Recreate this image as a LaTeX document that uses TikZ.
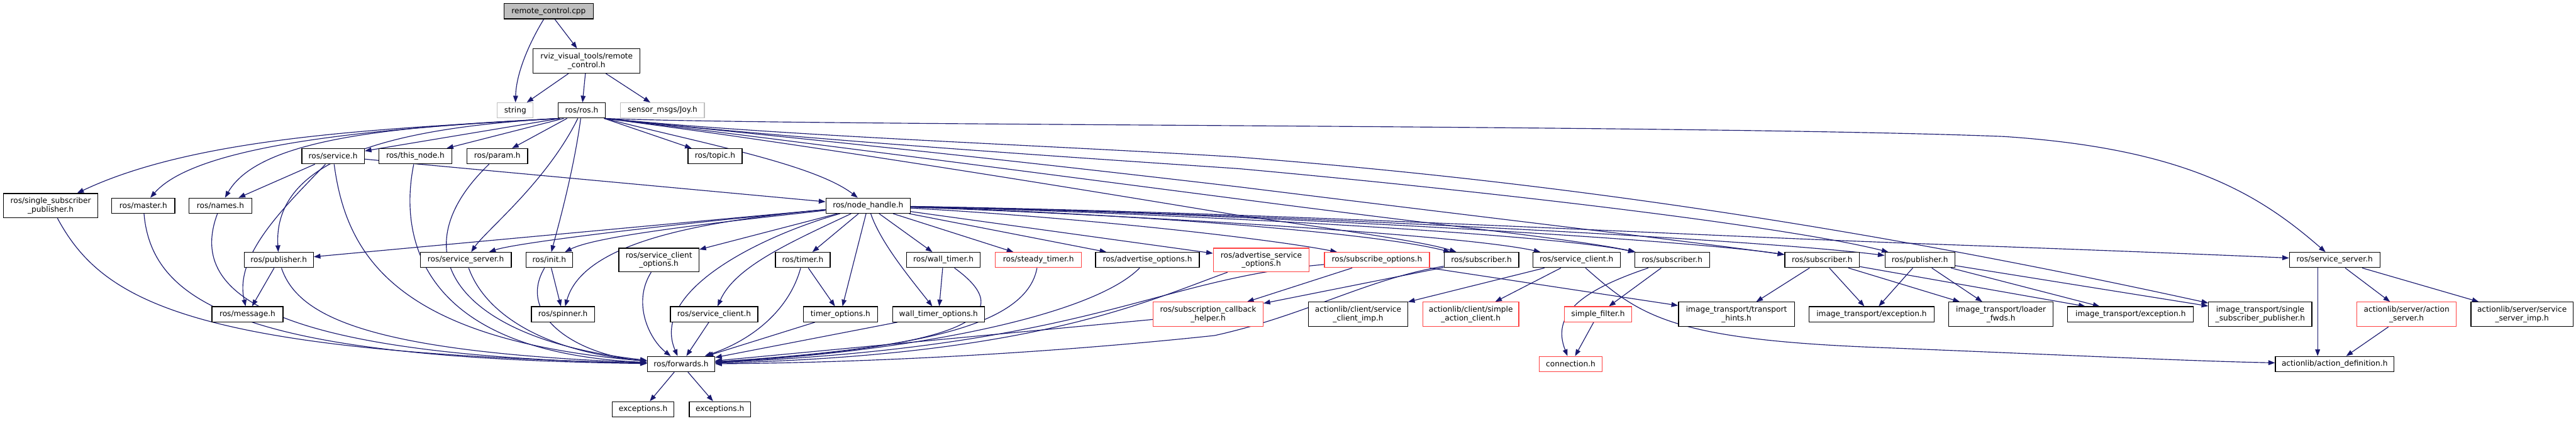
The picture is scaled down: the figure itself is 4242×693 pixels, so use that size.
\documentclass[tikz,border=0pt]{standalone}
\usepackage{fontspec}
\setmainfont{DejaVu Sans}
\usetikzlibrary{arrows.meta}
\definecolor{edgeblue}{HTML}{191970}
\definecolor{truncred}{RGB}{255,64,64}
\definecolor{nodegray}{HTML}{BFBFBF}
\definecolor{rootgray}{HTML}{BFBFBF}
\newcommand\nfont{\fontsize{12.6}{14.3}\selectfont}
\pgfdeclarelayer{bg}
\pgfdeclarelayer{edges}
\pgfsetlayers{bg,edges,main}
\tikzset{
  nb/.style={draw=black, line width=1.3pt, fill=white, inner sep=0pt, minimum height=25pt, align=center, font=\nfont},
  tb/.style={nb, minimum height=40pt},
  rb/.style={draw=truncred},
  gb/.style={draw=nodegray},
  e/.style={draw=edgeblue, line width=1.2pt, -{Triangle[length=11pt,width=8pt]}},
}
\begin{document}
\begin{tikzpicture}[x=1pt,y=-1pt]
\begin{pgfonlayer}{bg}
\fill[white] (0,0) rectangle (4242,693);
\end{pgfonlayer}
\useasboundingbox (0,0) rectangle (4242,693);
% nodes
\node[nb,minimum width=147pt,fill=rootgray] (cpp) at (903.5,18.5) {remote\_control.cpp};
\node[tb,minimum width=176pt] (rvizh) at (966,100.5) {rviz\_visual\_tools/remote\\\_control.h};
\node[nb,gb,minimum width=59pt] (string) at (848.5,182) {string};
\node[nb,minimum width=78pt] (rosh) at (958,182) {ros/ros.h};
\node[nb,gb,minimum width=138pt] (joy) at (1091,182) {sensor\_msgs/Joy.h};
\node[nb,minimum width=103pt] (service) at (548.5,257.5) {ros/service.h};
\node[nb,minimum width=120pt] (thisnode) at (684,257.5) {ros/this\_node.h};
\node[nb,minimum width=100pt] (param) at (819,257.5) {ros/param.h};
\node[nb,minimum width=89pt] (topic) at (1177.5,257.5) {ros/topic.h};
\node[tb,minimum width=155pt] (ssp) at (83.5,339) {ros/single\_subscriber\\\_publisher.h};
\node[nb,minimum width=104pt] (master) at (236,339) {ros/master.h};
\node[nb,minimum width=104pt] (names) at (363,339) {ros/names.h};
\node[nb,minimum width=139pt] (nh) at (1429.5,339) {ros/node\_handle.h};
\node[nb,minimum width=114pt] (pubL) at (459,428.5) {ros/publisher.h};
\node[nb,minimum width=150pt] (ssL) at (767,428.5) {ros/service\_server.h};
\node[nb,minimum width=77pt] (init) at (904.5,428.5) {ros/init.h};
\node[tb,minimum width=132pt,minimum height=39pt] (sco) at (1085,428.5) {ros/service\_client\\\_options.h};
\node[nb,minimum width=90pt] (timer) at (1322,428.5) {ros/timer.h};
\node[nb,minimum width=121pt] (wtimer) at (1553.5,428.5) {ros/wall\_timer.h};
\node[nb,rb,minimum width=142pt] (stimer) at (1710,428.5) {ros/steady\_timer.h};
\node[nb,minimum width=171pt] (advopt) at (1889.5,428.5) {ros/advertise\_options.h};
\node[tb,rb,minimum width=158pt,minimum height=39pt] (advsvc) at (2077,428.5) {ros/advertise\_service\\\_options.h};
\node[nb,rb,minimum width=173pt] (subopt) at (2267.5,428.5) {ros/subscribe\_options.h};
\node[nb,minimum width=123pt] (sub1) at (2439.5,428.5) {ros/subscriber.h};
\node[nb,minimum width=144pt] (sc) at (2596,428.5) {ros/service\_client.h};
\node[nb,minimum width=123pt] (sub2) at (2753.5,428.5) {ros/subscriber.h};
\node[nb,minimum width=123pt] (sub3) at (3000.5,428.5) {ros/subscriber.h};
\node[nb,minimum width=115pt] (pubR) at (3161.5,428.5) {ros/publisher.h};
\node[nb,minimum width=149pt] (ssR) at (3844.5,428.5) {ros/service\_server.h};
\node[nb,minimum width=117pt] (message) at (407.5,518) {ros/message.h};
\node[nb,minimum width=104pt] (spinner) at (927,518) {ros/spinner.h};
\node[nb,minimum width=144pt] (scl) at (1176,518) {ros/service\_client.h};
\node[nb,minimum width=122pt] (topt) at (1384,518) {timer\_options.h};
\node[nb,minimum width=151pt] (wtopt) at (1545.5,518) {wall\_timer\_options.h};
\node[tb,rb,minimum width=181pt] (sch) at (1989.5,518) {ros/subscription\_callback\\\_helper.h};
\node[tb,minimum width=163pt] (scimp) at (2236.5,518) {actionlib/client/service\\\_client\_imp.h};
\node[tb,rb,minimum width=158pt] (sac) at (2422,518) {actionlib/client/simple\\\_action\_client.h};
\node[nb,rb,minimum width=111pt] (sfilter) at (2631.5,518) {simple\_filter.h};
\node[tb,minimum width=191pt] (thints) at (2859.5,518) {image\_transport/transport\\\_hints.h};
\node[nb,minimum width=206pt] (itexc1) at (3082,518) {image\_transport/exception.h};
\node[tb,minimum width=172pt] (loader) at (3295,518) {image\_transport/loader\\\_fwds.h};
\node[nb,minimum width=207pt] (itexc2) at (3508.5,518) {image\_transport/exception.h};
\node[tb,minimum width=170pt] (itssp) at (3722,518) {image\_transport/single\\\_subscriber\_publisher.h};
\node[tb,rb,minimum width=164pt] (aserver) at (3963,518) {actionlib/server/action\\\_server.h};
\node[tb,minimum width=168pt] (ssimp) at (4153,518) {actionlib/server/service\\\_server\_imp.h};
\node[nb,minimum width=111pt] (fwd) at (1121.5,600) {ros/forwards.h};
\node[nb,rb,minimum width=103pt] (conn) at (2586.5,600) {connection.h};
\node[nb,minimum width=195pt] (adef) at (3844.5,600) {actionlib/action\_definition.h};
\node[nb,minimum width=102pt] (exc1) at (1059,674.5) {exceptions.h};
\node[nb,minimum width=101pt] (exc2) at (1185.5,674.5) {exceptions.h};
% edges
\begin{pgfonlayer}{edges}
\draw[e] (cpp) .. controls (872,70) and (850,120) .. (string);
\draw[e] (cpp) -- (rvizh);
\draw[e] (rvizh) -- (string);
\draw[e] (rvizh) -- (rosh);
\draw[e] (rvizh) -- (joy);
% ros.h, leftwards
\draw[e] ([xshift=3pt]rosh.south west) .. controls (650,212) and (330,222) .. (ssp);
\draw[e] ([xshift=3pt]rosh.south west) .. controls (660,210) and (330,232) .. (master);
\draw[e] ([xshift=3pt]rosh.south west) .. controls (680,208) and (430,222) .. (names);
\draw[e] ([xshift=3pt]rosh.south west) .. controls (650,210) and (449,260) .. (pubL);
\draw[e] ([xshift=4pt]rosh.south west) -- (service);
\draw[e] ([xshift=10pt]rosh.south west) -- (thisnode);
\draw[e] (rosh) -- (param);
\draw[e] (rosh) .. controls (900,300) and (800,380) .. (ssL);
\draw[e] (rosh) .. controls (945,280) and (920,370) .. (init);
% ros.h, rightwards
\draw[e] ([xshift=-3pt]rosh.south east) -- (topic);
\draw[e] ([xshift=-2pt]rosh.south east) .. controls (1150,235) and (1340,270) .. (nh);
\draw[e] ([xshift=-2pt]rosh.south east) .. controls (1300,208) and (2800,205) .. (3300,225) .. controls (3600,245) and (3720,320) .. (ssR);
\draw[e] ([xshift=-2pt]rosh.south east) .. controls (1300,225) and (1700,238) .. (2040,259) .. controls (2500,295) and (3000,360) .. (itssp);
\draw[e] ([xshift=-2pt]rosh.south east) .. controls (1300,228) and (1700,255) .. (2040,278) .. controls (2500,320) and (2950,375) .. (pubR);
\draw[e] ([xshift=-2pt]rosh.south east) .. controls (1250,222) and (1500,245) .. (2040,308) .. controls (2500,365) and (2800,400) .. (sub3);
\draw[e] ([xshift=-2pt]rosh.south east) .. controls (1250,225) and (1500,258) .. (2040,328) .. controls (2400,375) and (2600,395) .. (sub2);
\draw[e] ([xshift=-2pt]rosh.south east) .. controls (1250,228) and (1600,282) .. (2040,355) .. controls (2250,385) and (2350,400) .. (sub1);
% node_handle.h
\draw[e] (nh) -- (pubL);
\draw[e] (nh) .. controls (1100,370) and (850,400) .. (ssL);
\draw[e] (nh) .. controls (1150,370) and (980,390) .. (init);
\draw[e] (nh) .. controls (1150,365) and (960,400) .. (spinner);
\draw[e] (nh) .. controls (1250,390) and (1070,480) .. (fwd);
\draw[e] (nh) -- (sco);
\draw[e] (nh) .. controls (1300,400) and (1210,440) .. (scl);
\draw[e] (nh) -- (timer);
\draw[e] (nh) -- (topt);
\draw[e] (nh) .. controls (1450,400) and (1500,460) .. (wtopt);
\draw[e] (nh) -- (wtimer);
\draw[e] (nh) -- (stimer);
\draw[e] (nh) -- (advopt);
\draw[e] (nh) -- (advsvc);
\draw[e] (nh) .. controls (1800,360) and (2100,395) .. (subopt);
\draw[e] (nh) .. controls (1800,350) and (2250,380) .. (sub1);
\draw[e] (nh) .. controls (1800,352) and (2400,385) .. (sc);
\draw[e] (nh) .. controls (1900,350) and (2550,385) .. (sub2);
\draw[e] (nh) .. controls (2000,350) and (2750,392) .. (sub3);
\draw[e] (nh) .. controls (2100,352) and (2900,395) .. (pubR);
\draw[e] (nh) .. controls (2100,350) and (2700,385) .. (3200,403) .. controls (3450,412) and (3650,420) .. (ssR);
% others
\draw[e] (service) -- (names);
\draw[e] (service) .. controls (470,340) and (385,420) .. (message);
\draw[e] (service) .. controls (570,420) and (650,560) .. (fwd);
\draw[e] (service) -- (nh);
\draw[e] (thisnode) .. controls (655,400) and (700,580) .. (fwd);
\draw[e] (param) .. controls (650,420) and (760,560) .. (fwd);
\draw[e] (master) .. controls (250,500) and (400,590) .. (fwd);
\draw[e] (names) .. controls (310,480) and (430,585) .. (fwd);
\draw[e] (ssp) .. controls (170,500) and (320,580) .. (fwd);
\draw[e] (pubL) -- (message);
\draw[e] (pubL) .. controls (490,520) and (600,580) .. (fwd);
\draw[e] (ssL) .. controls (800,520) and (900,580) .. (fwd);
\draw[e] (init) -- (spinner);
\draw[e] (init) .. controls (850,520) and (950,585) .. (fwd);
\draw[e] (sco) .. controls (1040,500) and (1070,560) .. (fwd);
\draw[e] (scl) -- (fwd);
\draw[e] (timer) -- (topt);
\draw[e] (timer) .. controls (1300,510) and (1240,560) .. (fwd);
\draw[e] (topt) -- (fwd);
\draw[e] (wtimer) -- (wtopt);
\draw[e] (wtimer) .. controls (1680,520) and (1600,570) .. (fwd);
\draw[e] (wtopt) -- (fwd);
\draw[e] (stimer) .. controls (1690,540) and (1500,575) .. (fwd);
\draw[e] (advopt) .. controls (1800,520) and (1500,580) .. (fwd);
\draw[e] (advsvc) .. controls (1880,500) and (1700,585) .. (fwd);
\draw[e] (sch) -- (fwd);
\draw[e] (subopt) -- (sch);
\draw[e] (subopt) .. controls (1900,460) and (1800,570) .. (fwd);
\draw[e] (subopt) -- (thints);
\draw[e] (sub1) -- (sch);
\draw[e] (sub1) .. controls (2250,460) and (2150,520) .. (2000,553) .. controls (1700,585) and (1400,598) .. (fwd);
\draw[e] (sc) -- (scimp);
\draw[e] (sc) -- (sac);
\draw[e] (sc) .. controls (2700,520) and (2750,560) .. (3100,573) .. controls (3400,585) and (3600,595) .. (adef);
\draw[e] (sub2) .. controls (2600,480) and (2555,520) .. (conn);
\draw[e] (sub2) -- (sfilter);
\draw[e] (sfilter) -- (conn);
\draw[e] (sub3) -- (thints);
\draw[e] (sub3) -- (itexc1);
\draw[e] (sub3) -- (loader);
\draw[e] (sub3) -- (itexc2);
\draw[e] (pubR) -- (itexc1);
\draw[e] (pubR) -- (loader);
\draw[e] (pubR) -- (itexc2);
\draw[e] (pubR) -- (itssp);
\draw[e] ([xshift=-28pt]ssR.south) -- ([xshift=-28pt]adef.north);
\draw[e] (ssR) -- (aserver);
\draw[e] (ssR) -- (ssimp);
\draw[e] (aserver) -- (adef);
\draw[e] (fwd) -- (exc1);
\draw[e] (fwd) -- (exc2);
\end{pgfonlayer}
\end{tikzpicture}
\end{document}
